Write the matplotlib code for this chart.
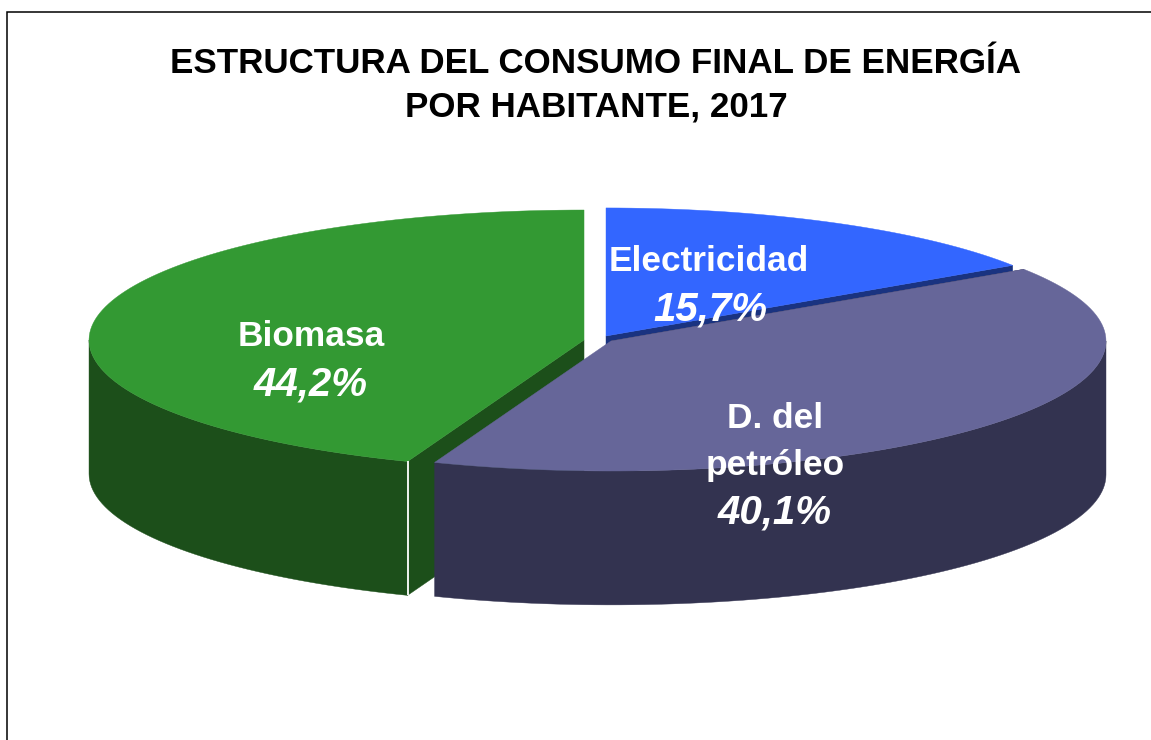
import numpy as np
import matplotlib
matplotlib.use("Agg")
import matplotlib.pyplot as plt
from matplotlib.patches import Polygon, Rectangle

categories = ["Electricidad", "D. del\npetróleo", "Biomasa"]
shares = [15.7, 40.1, 44.2]
share_labels = ["15,7%", "40,1%", "44,2%"]
title = "ESTRUCTURA DEL CONSUMO FINAL DE ENERGÍA\nPOR HABITANTE, 2017"

top_colors = ["#3366FF", "#666699", "#339933"]
side_colors = ["#1A3380", "#333350", "#1C4F1A"]

W, H = 1151, 740
CX, CY, RX, RY = 611, 341, 495, 130      # pie placement in the figure, pixels
DEPTH = 1.03
offsets = [(-0.0101, 0.0385), (0, 0), (-0.0545, 0.0077)]
radii = [0.985, 1.0, 1.0]
label_px = [(709, 261), (775, 442), (311, 337)]
pct_px = [(710, 309), (775, 513), (311, 385)]

plt.rcParams["font.family"] = ["Liberation Sans", "DejaVu Sans"]
fig = plt.figure(figsize=(W / 100, H / 100), dpi=100, facecolor="white")
ax = fig.add_axes([0, 0, 1, 1])
ax.set_xlim(-CX / RX, (W - CX) / RX)
ax.set_ylim((CY - H) / RY, CY / RY)
ax.axis("off")

edges = np.cumsum([0] + shares) / sum(shares) * 2 * np.pi


def arc(i, a, b, drop=0.0):
    t = np.linspace(a, b, max(int(abs(b - a) * 40), 2))
    dx, dy = offsets[i]
    return np.column_stack([dx + radii[i] * np.sin(t),
                            dy + radii[i] * np.cos(t) - drop])


def apex(i, drop=0.0):
    return np.array([[offsets[i][0], offsets[i][1] - drop]])


def add_poly(pts, color, z):
    ax.add_patch(Polygon(pts, closed=True, facecolor=color, edgecolor=color,
                         linewidth=0.3, zorder=z))


def draw_slice(i, z):
    a, b = edges[i], edges[i + 1]
    # radial cut face that looks toward the viewer
    if i == 0:
        end = arc(i, b, b)[:1]
    else:
        end = arc(i, a, a)[:1]
    d = np.array([[0, DEPTH]])
    add_poly(np.vstack([apex(i), end, end - d, apex(i) - d]), side_colors[i], z)
    # outer wall, front half only
    lo, hi = max(a, np.pi / 2), min(b, 3 * np.pi / 2)
    if hi > lo:
        add_poly(np.vstack([arc(i, lo, hi), arc(i, hi, lo, DEPTH)]),
                 side_colors[i], z + 0.1)
    # top
    add_poly(np.vstack([apex(i), arc(i, a, b)]), top_colors[i], z + 0.2)


draw_slice(0, 1)
draw_slice(2, 2)
# thin highlight where the green wall meets the cut face
p = arc(2, edges[2], edges[2])[0]
ax.plot([p[0], p[0]], [p[1], p[1] - DEPTH], color="white", lw=1.3, zorder=2.5,
        solid_capstyle="butt")
draw_slice(1, 3)

for name, pct, (lx, ly), (px, py) in zip(categories, share_labels, label_px, pct_px):
    fig.text(lx / W, 1 - ly / H, name, color="white", fontsize=25.4, fontweight="bold",
             ha="center", va="center", linespacing=1.55, zorder=10)
    fig.text(px / W, 1 - py / H, pct, color="white", fontsize=29, fontweight="bold",
             style="italic", ha="center", va="center", zorder=10)

fig.text(596 / W, 1 - 85 / H, title, color="black", fontsize=25.2, fontweight="bold",
         ha="center", va="center", linespacing=1.42)

fig.add_artist(Rectangle((7 / W, -0.1), 1.2, 1 - 12 / H + 0.1, transform=fig.transFigure,
                         facecolor="none", edgecolor="black", linewidth=1.1, zorder=20))

fig.savefig("out.png", dpi=100, facecolor="white")
